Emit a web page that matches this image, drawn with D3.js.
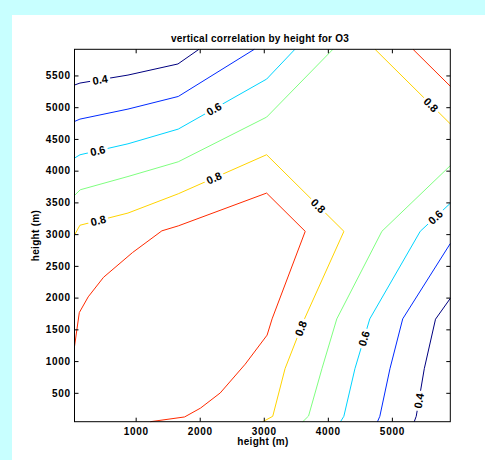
<!DOCTYPE html>
<html>
<head>
<meta charset="utf-8">
<script src="https://cdn.jsdelivr.net/npm/d3@7/dist/d3.min.js"></script>
<style>
  html, body { margin: 0; padding: 0; background: #c8ffff; }
  svg { display: block; }
  text { font-family: "Liberation Sans", Arial, Helvetica, sans-serif; font-weight: bold; fill: #000; }
</style>
</head>
<body>
<svg id="chart" width="485" height="460"></svg>
<script>
// Correlation levels drawn as contours
const levels = [0.4, 0.5, 0.6, 0.7, 0.8, 0.9];
const labelledLevels = [0.4, 0.6, 0.8];

// Axis extent (m) and tick values
const heightExtent = [45, 5912];
const xTicks = [1000, 2000, 3000, 4000, 5000];
const yTicks = [500, 1000, 1500, 2000, 2500, 3000, 3500, 4000, 4500, 5000, 5500];

// Contour polylines: vertices as [height (m) on x, height (m) on y]
const contour04upper = [[45, 5349], [130, 5380], [880, 5506], [1660, 5681], [1988, 5912]];
const contour04lower = [[5349, 45], [5380, 130], [5506, 880], [5681, 1660], [5912, 1988]];
const contour05upper = [[45, 4775], [130, 4812], [880, 4970], [1665, 5169], [2852, 5912]];
const contour05lower = [[4775, 45], [4812, 130], [4970, 880], [5169, 1665], [5912, 2852]];
const contour06upper = [[45, 4198], [130, 4250], [880, 4423], [1665, 4655], [3045, 5443], [3486, 5912]];
const contour06lower = [[4198, 45], [4250, 130], [4423, 880], [4655, 1665], [5443, 3045], [5912, 3486]];
const contour07upper = [[45, 3609], [135, 3699], [880, 3908], [1665, 4140], [3045, 4844], [4079, 5912]];
const contour07lower = [[3609, 45], [3699, 135], [3908, 880], [4140, 1665], [4844, 3045], [5912, 4079]];
const contour08main = [[45, 2985], [130, 3140], [880, 3332], [1665, 3636], [3044, 4251],
                       [4251, 3044], [3636, 1665], [3332, 880], [3140, 130], [2985, 45]];
const contour08corner = [[4737, 5912], [5912, 4737]];
const contour09main = [[45, 1230], [120, 1764], [259, 2012], [498, 2320], [951, 2710], [1409, 3052],
                       [1665, 3130], [3044, 3647], [3647, 3044], [3130, 1665], [3052, 1409],
                       [2710, 951], [2320, 498], [2012, 259], [1764, 120], [1230, 45]];
const contour09corner = [[5330, 5912], [5912, 5330]];

const contourLines = [
  { level: 0.4, points: contour04upper }, { level: 0.4, points: contour04lower },
  { level: 0.5, points: contour05upper }, { level: 0.5, points: contour05lower },
  { level: 0.6, points: contour06upper }, { level: 0.6, points: contour06lower },
  { level: 0.7, points: contour07upper }, { level: 0.7, points: contour07lower },
  { level: 0.8, points: contour08main },  { level: 0.8, points: contour08corner },
  { level: 0.9, points: contour09main },  { level: 0.9, points: contour09corner }
];

// Inline contour label anchors [x (m), y (m)], snapped onto the matching contour
const labelLevels  = [0.4, 0.6, 0.8, 0.6, 0.8, 0.8, 0.8, 0.6, 0.8, 0.6, 0.4];
const labelAnchors = [[451, 5397], [407, 4318], [407, 3246], [2226, 4964], [2228, 3873],
                      [5595, 5022], [3851, 3446], [5673, 3275], [3600, 1505], [4588, 1348], [5400, 379]];

const titleText = "vertical correlation by height for O3";
const xLabel = "height (m)";
const yLabel = "height (m)";

// ---- layout ----
const plot = { left: 74.5, right: 450.3, top: 49.3, bottom: 421.7 };
const svg = d3.select("#chart");

svg.append("rect").attr("x", 0).attr("y", 0).attr("width", 485).attr("height", 460).attr("fill", "#c8ffff");
svg.append("rect").attr("x", 12).attr("y", 15).attr("width", 473).attr("height", 445).attr("fill", "#ffffff");

const x = d3.scaleLinear().domain(heightExtent).range([plot.left, plot.right]);
const y = d3.scaleLinear().domain(heightExtent).range([plot.bottom, plot.top]);

// jet colormap over the 0.4 – 1.0 correlation range
const jet = t => {
  const c = v => Math.round(255 * Math.max(0, Math.min(1, v)));
  return d3.rgb(c(1.5 - Math.abs(4 * t - 3)), c(1.5 - Math.abs(4 * t - 2)), c(1.5 - Math.abs(4 * t - 1))).formatHex();
};
const colorScale = d3.scaleLinear().domain([0.4, 1.0]).range([0, 1]);
const levelColor = lv => jet(colorScale(lv));

// ---- contour lines ----
const line = d3.line().x(d => x(d[0])).y(d => y(d[1]));
const contourLayer = svg.append("g");
contourLayer.selectAll("path")
  .data(contourLines)
  .join("path")
  .attr("d", d => line(d.points))
  .attr("fill", "none")
  .attr("stroke", d => levelColor(d.level))
  .attr("stroke-width", 1);

// ---- inline labels ----
function placeLabel(level, anchor) {
  const px = x(anchor[0]), py = y(anchor[1]);
  let best = null;
  contourLines.filter(c => c.level === level).forEach(c => {
    for (let i = 0; i < c.points.length - 1; i++) {
      const ax = x(c.points[i][0]), ay = y(c.points[i][1]);
      const bx = x(c.points[i + 1][0]), by = y(c.points[i + 1][1]);
      const dx = bx - ax, dy = by - ay;
      const len2 = dx * dx + dy * dy;
      let t = ((px - ax) * dx + (py - ay) * dy) / len2;
      t = Math.max(0, Math.min(1, t));
      const qx = ax + t * dx, qy = ay + t * dy;
      const dist = Math.hypot(px - qx, py - qy);
      if (!best || dist < best.dist) {
        let ang = Math.atan2(dy, dx) * 180 / Math.PI;
        if (ang > 90) ang -= 180;
        if (ang <= -90) ang += 180;
        best = { dist, qx, qy, ang };
      }
    }
  });
  return best;
}

const fmt = d3.format(".1f");
const labelLayer = svg.append("g");
labelAnchors.forEach((a, i) => {
  const lv = labelLevels[i];
  const p = placeLabel(lv, a);
  const g = labelLayer.append("g").attr("transform", `translate(${p.qx},${p.qy}) rotate(${p.ang})`);
  const bg = g.append("rect").attr("fill", "#ffffff");
  const t = g.append("text")
    .attr("text-anchor", "middle")
    .attr("dy", "0.36em")
    .style("font-size", "11px")
    .text(fmt(lv));
  const w = t.node().getComputedTextLength();
  bg.attr("x", -w / 2 - 2.5).attr("y", -5).attr("width", w + 5).attr("height", 10);
});

// ---- axes (ticks inside, box on) ----
const tickFont = sel => sel.selectAll("text").style("font-size", "10px").style("letter-spacing", "0.7px");

const gx = svg.append("g").attr("transform", `translate(0,${plot.bottom})`)
  .call(d3.axisBottom(x).tickValues(xTicks).tickSize(-4).tickPadding(6.3).tickFormat(d3.format("d")));
const gxTop = svg.append("g").attr("transform", `translate(0,${plot.top})`)
  .call(d3.axisTop(x).tickValues(xTicks).tickSize(-4).tickFormat(""));
const gy = svg.append("g").attr("transform", `translate(${plot.left},0)`)
  .call(d3.axisLeft(y).tickValues(yTicks).tickSize(-4).tickPadding(3.8).tickFormat(d3.format("d")));
const gyRight = svg.append("g").attr("transform", `translate(${plot.right},0)`)
  .call(d3.axisRight(y).tickValues(yTicks).tickSize(-4).tickFormat(""));

[gx, gxTop, gy, gyRight].forEach(g => {
  g.select(".domain").remove();
  g.selectAll("line").attr("stroke", "#000").attr("stroke-width", 1);
  g.selectAll("text").attr("fill", "#000").style("font-family", "'Liberation Sans', Arial, sans-serif").style("font-weight", "bold");
});
tickFont(gx);
tickFont(gy);

svg.append("rect")
  .attr("x", plot.left).attr("y", plot.top)
  .attr("width", plot.right - plot.left).attr("height", plot.bottom - plot.top)
  .attr("fill", "none").attr("stroke", "#000").attr("stroke-width", 1);

// ---- title and axis labels ----
svg.append("text")
  .attr("x", 260).attr("y", 41.5)
  .attr("text-anchor", "middle")
  .style("font-size", "10px").style("letter-spacing", "0.25px")
  .text(titleText);

svg.append("text")
  .attr("x", 263).attr("y", 445)
  .attr("text-anchor", "middle")
  .style("font-size", "10px").style("letter-spacing", "0.3px")
  .text(xLabel);

svg.append("text")
  .attr("transform", `translate(38.5,${(plot.top + plot.bottom) / 2}) rotate(-90)`)
  .attr("text-anchor", "middle")
  .style("font-size", "10px").style("letter-spacing", "0.3px")
  .text(yLabel);
</script>
</body>
</html>
